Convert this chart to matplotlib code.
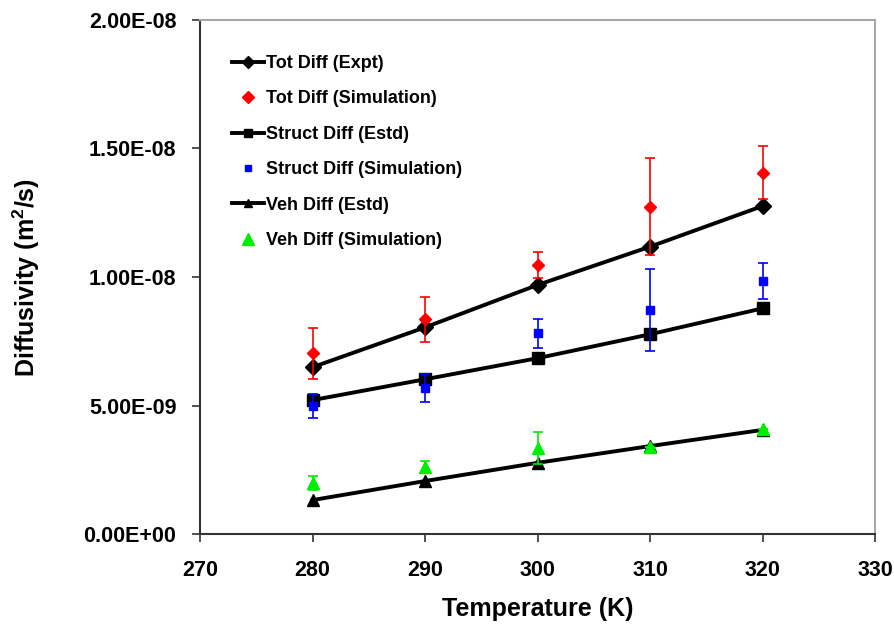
import matplotlib
matplotlib.use("Agg")
import matplotlib.pyplot as plt
from matplotlib.lines import Line2D
from matplotlib.ticker import FuncFormatter, MultipleLocator

plt.rcParams['font.family'] = ['Liberation Sans', 'DejaVu Sans']
plt.rcParams['font.weight'] = 'bold'
plt.rcParams['mathtext.fontset'] = 'custom'
plt.rcParams['mathtext.rm'] = 'Liberation Sans:bold'
plt.rcParams['mathtext.default'] = 'rm'

temps = [280, 290, 300, 310, 320]
tot_expt = [6.49e-9, 8.04e-9, 9.69e-9, 11.18e-9, 12.76e-9]
tot_sim = [7.03e-9, 8.35e-9, 10.47e-9, 12.74e-9, 14.06e-9]
tot_sim_err = [1.0e-9, 0.89e-9, 0.52e-9, 1.9e-9, 1.03e-9]
struct_estd = [5.21e-9, 6.02e-9, 6.84e-9, 7.77e-9, 8.78e-9]
struct_sim = [4.98e-9, 5.67e-9, 7.81e-9, 8.72e-9, 9.84e-9]
struct_sim_err = [0.48e-9, 0.55e-9, 0.56e-9, 1.6e-9, 0.7e-9]
veh_estd = [1.32e-9, 2.06e-9, 2.77e-9, 3.42e-9, 4.05e-9]
veh_sim = [2.0e-9, 2.62e-9, 3.33e-9, 3.40e-9, 4.09e-9]
veh_sim_err = [0.27e-9, 0.22e-9, 0.62e-9, 0.0, 0.0]
labels = ['Tot Diff (Expt)', 'Tot Diff (Simulation)', 'Struct Diff (Estd)',
          'Struct Diff (Simulation)', 'Veh Diff (Estd)', 'Veh Diff (Simulation)']

RED, BLUE, GREEN = '#ff0000', '#0000ff', '#00ee00'

fig = plt.figure(figsize=(8.94, 6.26), dpi=100)
ax = fig.add_axes([200/894, 1-534/626, 675/894, 514/626])

lw = 2.8
ax.plot(temps, tot_expt, color='black', lw=lw, marker='D', ms=8, zorder=3)
ax.errorbar(temps, tot_sim, yerr=tot_sim_err, fmt='D', color=RED, ms=6.5, elinewidth=1.2,
            capsize=3.3, capthick=1.2, zorder=4)
ax.plot(temps, struct_estd, color='black', lw=lw, marker='s', ms=8, zorder=3)
ax.errorbar(temps, struct_sim, yerr=struct_sim_err, fmt='s', color=BLUE, ms=5.5, elinewidth=1.2,
            capsize=3.3, capthick=1.2, zorder=4)
ax.plot(temps, veh_estd, color='black', lw=lw, marker='^', ms=8, zorder=3)
ax.errorbar(temps, veh_sim, yerr=veh_sim_err, fmt='^', color=GREEN, ms=8.5, elinewidth=1.2,
            capsize=3.3, capthick=1.2, zorder=4)

ax.set_xlim(270, 330)
ax.set_ylim(0, 2.0e-8)
ax.xaxis.set_major_locator(MultipleLocator(10))
ax.yaxis.set_major_locator(MultipleLocator(5e-9))
ax.yaxis.set_major_formatter(FuncFormatter(lambda v, p: f"{v:.2E}"))

for s in ['top', 'right']:
    ax.spines[s].set_color('#a8a8a8')
    ax.spines[s].set_linewidth(1.5)
for s in ['left', 'bottom']:
    ax.spines[s].set_color('#333333')
    ax.spines[s].set_linewidth(1.5)

ax.tick_params(axis='both', direction='out', length=6, width=1.2, color='#333333',
               labelsize=15.5)
ax.tick_params(axis='x', pad=13)
ax.tick_params(axis='y', pad=11)

ax.set_xlabel('Temperature (K)', fontsize=18, fontweight='bold')
ax.set_ylabel(r'Diffusivity (m$^{2}$/s)', fontsize=18, fontweight='bold')
ax.xaxis.set_label_coords(0.5, (534-597)/514)
ax.yaxis.set_label_coords((42-200)/675, 0.5)

handles = [
    Line2D([], [], color='black', lw=lw, marker='D', ms=6),
    Line2D([], [], color=RED, lw=0, marker='D', ms=6),
    Line2D([], [], color='black', lw=lw, marker='s', ms=6),
    Line2D([], [], color=BLUE, lw=0, marker='s', ms=5),
    Line2D([], [], color='black', lw=lw, marker='^', ms=6),
    Line2D([], [], color=GREEN, lw=0, marker='^', ms=8),
]
leg = ax.legend(handles, labels, loc='upper left', bbox_to_anchor=(232/894, 1-55/626),
                bbox_transform=fig.transFigure, frameon=False,
                prop={'weight': 'bold', 'size': 13}, handlelength=1.75,
                handletextpad=0.15, labelspacing=1.02, numpoints=1, borderaxespad=0,
                borderpad=0)

fig.savefig('out.png', dpi=100)
